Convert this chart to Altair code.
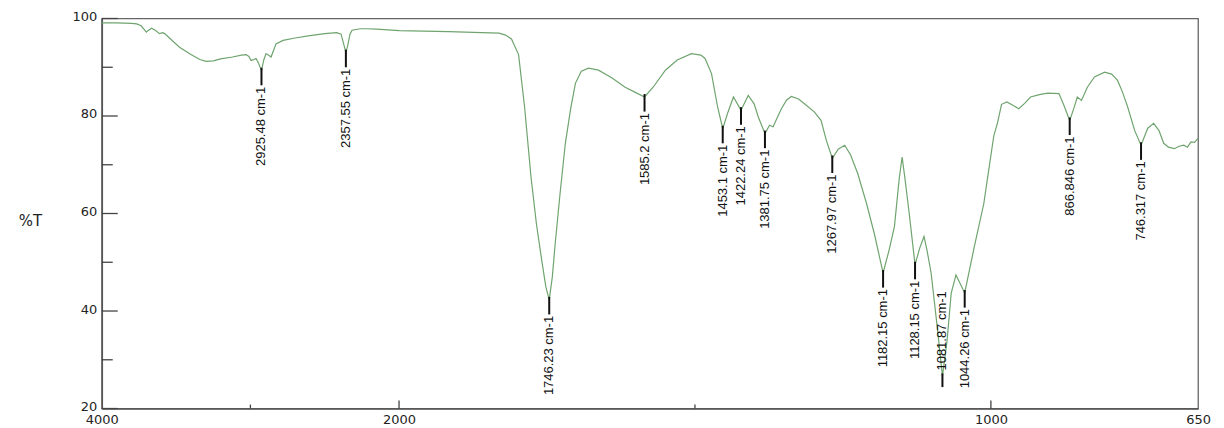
import altair as alt
import pandas as pd

# ---- spectrum (wavenumber cm-1, %T) ----
wavenumber = [4000, 3900, 3800, 3765, 3735, 3700, 3690, 3665, 3640, 3611, 3590, 3577, 3530, 3477,
              3400, 3340, 3297, 3250, 3200, 3121, 3060, 3029, 3010, 2996, 2975, 2962, 2945, 2925.48,
              2910, 2895, 2875, 2861, 2845, 2828, 2780, 2700, 2600, 2500, 2420, 2390, 2370, 2357.55,
              2345, 2330, 2316, 2260, 2222, 2150, 2000, 1916, 1860, 1831, 1820, 1810, 1798, 1788,
              1777, 1768, 1759, 1752, 1746.23, 1741, 1736, 1728, 1719, 1710, 1702, 1692, 1680, 1663,
              1640, 1618, 1600, 1585.2, 1570, 1550, 1530, 1506, 1490, 1483, 1472, 1462, 1453.1, 1445,
              1435, 1422.24, 1410, 1400, 1393, 1381.75, 1374, 1368, 1354, 1345, 1337, 1325, 1315,
              1298, 1287, 1278, 1267.97, 1258, 1247, 1237, 1225, 1210, 1197, 1182.15, 1172, 1163,
              1155, 1150, 1145, 1138, 1128.15, 1120, 1113, 1108, 1101, 1090, 1081.87, 1074, 1067,
              1059, 1044.26, 1028, 1012, 1006, 995, 989, 982, 973, 963, 953, 943, 933, 918, 904, 885,
              876, 866.846, 860, 854, 847, 837, 825, 808, 796, 786, 778, 769, 757, 746.317, 735, 725,
              716, 708, 700, 690, 682, 674, 668, 662, 656, 650]
transmittance = [99.1, 99.1, 99.0, 98.9, 98.5, 97.2, 97.5, 98.0, 97.6, 96.9, 97.1, 96.9, 95.6, 94.1,
                 92.6, 91.6, 91.2, 91.3, 91.7, 92.1, 92.5, 92.6, 92.2, 91.4, 91.6, 91.8, 90.8, 89.3,
                 91.5, 92.8, 92.4, 92.1, 93.4, 94.8, 95.5, 96.0, 96.5, 96.9, 97.1, 96.8, 94.5, 93.0,
                 94.5, 96.8, 97.6, 97.9, 97.9, 97.8, 97.5, 97.3, 97.1, 97.0, 96.6, 95.8, 92.6, 82.0,
                 67.5, 58.0, 50.5, 45.0, 42.3, 47.0, 54.0, 64.0, 74.4, 81.5, 86.7, 89.2, 89.8, 89.4,
                 87.8, 85.9, 84.8, 83.9, 86.0, 89.4, 91.5, 92.8, 92.5, 91.8, 88.7, 82.0, 77.4, 80.5,
                 83.9, 81.2, 84.2, 82.5, 79.8, 76.4, 78.1, 77.8, 81.5, 83.3, 84.0, 83.5, 82.5,
                 80.8, 79.1, 75.0, 71.3, 73.2, 74.0, 72.0, 68.2, 62.0, 55.9, 47.8, 52.5, 57.3,
                 67.0, 71.6, 67.0, 60.0, 49.5, 53.0, 55.3, 52.5, 47.8, 36.0, 26.6, 34.0, 43.7,
                 47.4, 43.7, 53.2, 62.0, 67.0, 76.0, 78.5, 82.4, 82.9, 82.2, 81.5, 82.6, 83.9, 84.4, 84.7, 84.6,
                 82.0, 79.1, 81.5, 83.9, 83.2, 85.9, 88.0, 89.0, 88.6, 87.3, 85.0, 81.9, 77.0, 74.0, 77.5, 78.5,
                 77.0, 74.4, 73.6, 73.3, 73.8, 74.0, 73.6, 74.7, 74.6, 75.4]

# ---- labelled peaks ----
peak_wn = [2925.48, 2357.55, 1746.23, 1585.2, 1453.1, 1422.24, 1381.75, 1267.97,
           1182.15, 1128.15, 1081.87, 1044.26, 866.846, 746.317]
peak_T = [89.3, 93.0, 42.3, 83.9, 77.4, 81.2, 76.4, 71.3, 47.8, 49.5, 26.6, 43.7, 79.1, 74.0]
peak_text = ["2925.48 cm-1", "2357.55 cm-1", "1746.23 cm-1", "1585.2 cm-1", "1453.1 cm-1",
             "1422.24 cm-1", "1381.75 cm-1", "1267.97 cm-1", "1182.15 cm-1", "1128.15 cm-1",
             "1081.87 cm-1", "1044.26 cm-1", "866.846 cm-1", "746.317 cm-1"]
peak_side = ["below"] * 10 + ["above"] + ["below"] * 3

# ---- axis ticks ----
x_labels = [4000, 2000, 1000, 650]
x_major_ticks = [2000, 1000]
x_minor_ticks = [3000, 1500]
y_major = [20, 40, 60, 80, 100]
y_minor = [30, 50, 70, 90]

W, H = 1099, 391

spec = pd.DataFrame({"wn": wavenumber, "T": transmittance})
peaks = pd.DataFrame({"wn": peak_wn, "T": peak_T, "label": peak_text, "side": peak_side})

xscale = alt.Scale(domain=[4000, 2000, 650], range=[0, 298, W], nice=False, zero=False)
yscale = alt.Scale(domain=[20, 100], nice=False, zero=False)

FONT = "DejaVu Sans"
LBL_FONT = "Liberation Sans Narrow, Liberation Sans, Arial, sans-serif"

line = alt.Chart(spec).mark_line(color="#6fa46f", strokeWidth=1.2).encode(
    x=alt.X("wn:Q", scale=xscale, title=None,
            axis=alt.Axis(values=x_labels, ticks=False, grid=False, labelFlush=False,
                          labelPadding=5, labelFontSize=13, labelFont=FONT, labelColor="#222",
                          domainColor="#555", domainWidth=1.6, format="d")),
    y=alt.Y("T:Q", scale=yscale, title="%T",
            axis=alt.Axis(values=y_major, ticks=False, grid=False, labelPadding=5,
                          labelFontSize=13, labelFont=FONT, labelColor="#222", labelOffset=-2,
                          domainColor="#555", domainWidth=1.6,
                          titleAngle=0, titleX=-72, titleY=203, titleAlign="center",
                          titleBaseline="middle", titleFont=FONT, titleFontSize=15,
                          titleFontWeight="normal", titleColor="#222")),
)

ymaj = alt.Chart(pd.DataFrame({"v": y_major})).mark_rule(color="#444", strokeWidth=1.3).encode(
    y=alt.Y("v:Q", scale=yscale, axis=None), x=alt.value(0), x2=alt.value(16))
ymin = alt.Chart(pd.DataFrame({"v": y_minor})).mark_rule(color="#444", strokeWidth=1.3).encode(
    y=alt.Y("v:Q", scale=yscale, axis=None), x=alt.value(0), x2=alt.value(11))
xmaj = alt.Chart(pd.DataFrame({"v": x_major_ticks})).mark_rule(color="#444", strokeWidth=1.3).encode(
    x=alt.X("v:Q", scale=xscale, axis=None), y=alt.value(H), y2=alt.value(H - 8))
xmin = alt.Chart(pd.DataFrame({"v": x_minor_ticks})).mark_rule(color="#444", strokeWidth=1.3).encode(
    x=alt.X("v:Q", scale=xscale, axis=None), y=alt.value(H), y2=alt.value(H - 4))

pk = alt.Chart(peaks).transform_calculate(
    top="datum.T + 0.6",
    bot="datum.side == 'below' ? datum.T - 3.0 : datum.T - 2.2",
    ty="datum.side == 'below' ? datum.T - 3.3 : datum.T + 1.2",
)

markers = pk.mark_rule(color="#111", strokeWidth=2).encode(
    x=alt.X("wn:Q", scale=xscale, axis=None),
    y=alt.Y("top:Q", scale=yscale, axis=None),
    y2="bot:Q",
)
text_below = pk.transform_filter("datum.side == 'below'").mark_text(
    angle=270, align="right", baseline="middle", font=LBL_FONT, fontSize=13, color="#111"
).encode(x=alt.X("wn:Q", scale=xscale, axis=None), y=alt.Y("ty:Q", scale=yscale, axis=None),
         text="label:N")
text_above = pk.transform_filter("datum.side == 'above'").mark_text(
    angle=270, align="left", baseline="middle", font=LBL_FONT, fontSize=13, color="#111"
).encode(x=alt.X("wn:Q", scale=xscale, axis=None), y=alt.Y("ty:Q", scale=yscale, axis=None),
         text="label:N")

chart = alt.layer(line, ymaj, ymin, xmaj, xmin, markers, text_below, text_above).resolve_axis(
    x="independent", y="independent"
).properties(
    width=W, height=H, padding={"left": 10, "top": 2, "right": 5, "bottom": 0},
    background="white",
).configure_view(stroke="#666", strokeWidth=1.3)

chart.save("out.html", embed_options={"renderer": "svg", "actions": False})
